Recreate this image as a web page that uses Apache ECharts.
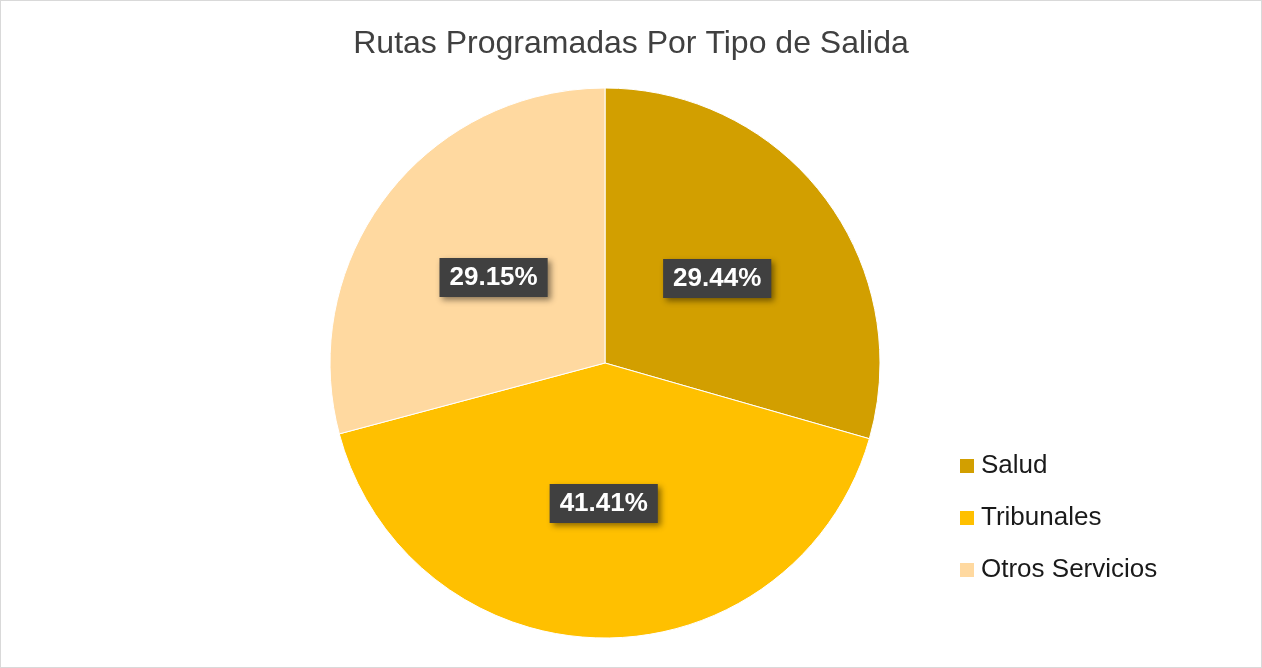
<!DOCTYPE HTML>
<html lang="es">
<head>
<meta charset="utf-8">
<title>Rutas Programadas Por Tipo de Salida</title>
<style>
html, body {
  margin: 0;
  background: #ffffff;
}
#chart {
  width: 1262px;
  height: 668px;
  box-sizing: border-box;
  border: 1px solid #d9d9d9;
}
</style>
</head>
<body>
<div id="chart"></div>
<script src="https://cdn.jsdelivr.net/npm/echarts@6/dist/echarts.min.js"></script>
<script>
var categories = ['Salud', 'Tribunales', 'Otros Servicios'];
var values = [29.44, 41.41, 29.15];
var colors = ['#D29F00', '#FFC000', '#FFD9A0'];

var chart = echarts.init(document.getElementById('chart'));
chart.setOption({
  animation: false,
  title: {
    text: 'Rutas Programadas Por Tipo de Salida',
    left: 'center',
    top: 22,
    textStyle: {
      fontFamily: 'Liberation Sans',
      fontSize: 32,
      fontWeight: 'normal',
      color: '#404040'
    }
  },
  legend: {
    orient: 'vertical',
    left: 959,
    top: 452,
    padding: 0,
    itemWidth: 14,
    itemHeight: 14,
    itemGap: 26,
    icon: 'rect',
    itemStyle: { borderWidth: 0 },
    data: categories,
    textStyle: {
      fontFamily: 'Liberation Sans',
      fontSize: 26,
      color: '#1a1a1a',
      padding: [0, 0, 0, 2]
    }
  },
  series: [{
    type: 'pie',
    center: [604, 362],
    radius: 275,
    startAngle: 90,
    clockwise: true,
    itemStyle: {
      borderColor: '#ffffff',
      borderWidth: 1
    },
    label: {
      position: 'inside',
      formatter: function (p) { return p.value.toFixed(2) + '%'; },
      fontFamily: 'Liberation Sans',
      fontSize: 26,
      fontWeight: 'bold',
      color: '#ffffff',
      backgroundColor: '#404040',
      padding: [7, 10, 6, 10],
      shadowColor: 'rgba(0,0,0,0.45)',
      shadowBlur: 6,
      shadowOffsetX: 3,
      shadowOffsetY: 3
    },
    labelLine: { show: false },
    data: categories.map(function (c, i) {
      return { name: c, value: values[i], itemStyle: { color: colors[i] } };
    })
  }]
});
</script>
</body>
</html>
